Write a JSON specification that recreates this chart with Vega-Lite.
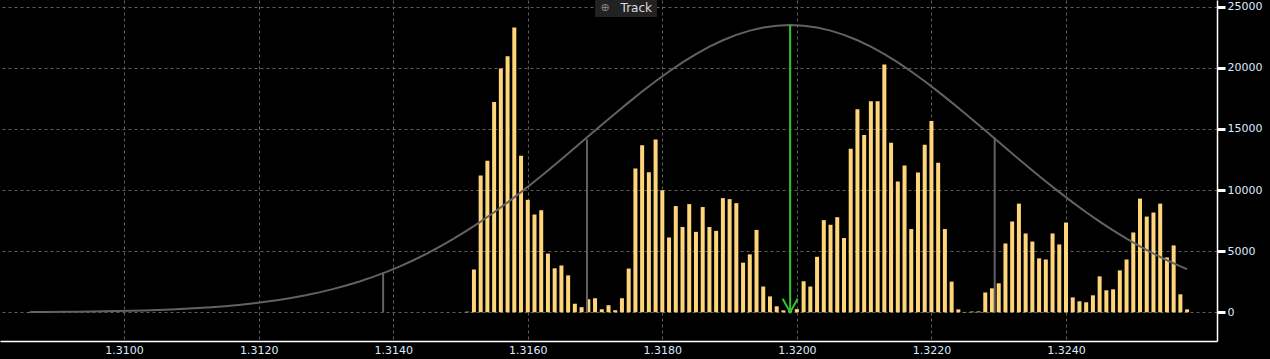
{
  "$schema": "https://vega.github.io/schema/vega-lite/v6.json",
  "width": 1217,
  "height": 341,
  "padding": {"left": 0, "top": 0, "right": 53, "bottom": 18},
  "autosize": {"type": "none"},
  "background": "#000000",
  "config": {
    "view": {"stroke": null},
    "axis": {"labelFont": "DejaVu Sans", "labelFontSize": 11, "labelColor": "#dbeaff", "domainColor": "#ffffff", "domainWidth": 1.5, "gridColor": "#5e5e5e", "gridDash": [3, 3], "gridWidth": 1, "title": null}
  },
  "datasets": {
    "hist": [
      {"price": 1.3086, "count": 30}, {"price": 1.3151, "count": 50}, {"price": 1.3152, "count": 3500}, {"price": 1.3153, "count": 11200},
      {"price": 1.3154, "count": 12400}, {"price": 1.3155, "count": 17200}, {"price": 1.3156, "count": 19950}, {"price": 1.3157, "count": 20950},
      {"price": 1.3158, "count": 23300}, {"price": 1.3159, "count": 12800}, {"price": 1.316, "count": 9200}, {"price": 1.3161, "count": 8000},
      {"price": 1.3162, "count": 8350}, {"price": 1.3163, "count": 4800}, {"price": 1.3164, "count": 3600}, {"price": 1.3165, "count": 3830},
      {"price": 1.3166, "count": 3020}, {"price": 1.3167, "count": 700}, {"price": 1.3168, "count": 420}, {"price": 1.3169, "count": 1070},
      {"price": 1.317, "count": 1150}, {"price": 1.3171, "count": 250}, {"price": 1.3172, "count": 580}, {"price": 1.3173, "count": 170},
      {"price": 1.3174, "count": 1150}, {"price": 1.3175, "count": 3580}, {"price": 1.3176, "count": 11770}, {"price": 1.3177, "count": 13670},
      {"price": 1.3178, "count": 11450}, {"price": 1.3179, "count": 14130}, {"price": 1.318, "count": 9990}, {"price": 1.3181, "count": 6120},
      {"price": 1.3182, "count": 8690}, {"price": 1.3183, "count": 6980}, {"price": 1.3184, "count": 8850}, {"price": 1.3185, "count": 6580},
      {"price": 1.3186, "count": 8610}, {"price": 1.3187, "count": 6980}, {"price": 1.3188, "count": 6660}, {"price": 1.3189, "count": 9340},
      {"price": 1.319, "count": 9260}, {"price": 1.3191, "count": 8930}, {"price": 1.3192, "count": 4060}, {"price": 1.3193, "count": 4740},
      {"price": 1.3194, "count": 6740}, {"price": 1.3195, "count": 2110}, {"price": 1.3196, "count": 1300}, {"price": 1.3197, "count": 490},
      {"price": 1.3198, "count": 160}, {"price": 1.3199, "count": 100}, {"price": 1.32, "count": 260}, {"price": 1.3201, "count": 2540},
      {"price": 1.3202, "count": 2110}, {"price": 1.3203, "count": 4540}, {"price": 1.3204, "count": 7540}, {"price": 1.3205, "count": 7160},
      {"price": 1.3206, "count": 7780}, {"price": 1.3207, "count": 6080}, {"price": 1.3208, "count": 13380}, {"price": 1.3209, "count": 16620},
      {"price": 1.321, "count": 14510}, {"price": 1.3211, "count": 17270}, {"price": 1.3212, "count": 17270}, {"price": 1.3213, "count": 20270},
      {"price": 1.3214, "count": 13870}, {"price": 1.3215, "count": 10700}, {"price": 1.3216, "count": 12000}, {"price": 1.3217, "count": 6810},
      {"price": 1.3218, "count": 11430}, {"price": 1.3219, "count": 13700}, {"price": 1.322, "count": 15650}, {"price": 1.3221, "count": 12240},
      {"price": 1.3222, "count": 6810}, {"price": 1.3223, "count": 2510}, {"price": 1.3224, "count": 240}, {"price": 1.3225, "count": 30},
      {"price": 1.3226, "count": 60}, {"price": 1.3227, "count": 70}, {"price": 1.3228, "count": 1620}, {"price": 1.3229, "count": 1960},
      {"price": 1.323, "count": 2370}, {"price": 1.3231, "count": 5630}, {"price": 1.3232, "count": 7430}, {"price": 1.3233, "count": 8890},
      {"price": 1.3234, "count": 6450}, {"price": 1.3235, "count": 5790}, {"price": 1.3236, "count": 4410}, {"price": 1.3237, "count": 4320},
      {"price": 1.3238, "count": 6450}, {"price": 1.3239, "count": 5550}, {"price": 1.324, "count": 7340}, {"price": 1.3241, "count": 1220},
      {"price": 1.3242, "count": 900}, {"price": 1.3243, "count": 820}, {"price": 1.3244, "count": 1390}, {"price": 1.3245, "count": 2940},
      {"price": 1.3246, "count": 1800}, {"price": 1.3247, "count": 1880}, {"price": 1.3248, "count": 3430}, {"price": 1.3249, "count": 4320},
      {"price": 1.325, "count": 6530}, {"price": 1.3251, "count": 9300}, {"price": 1.3252, "count": 7830}, {"price": 1.3253, "count": 8160},
      {"price": 1.3254, "count": 8890}, {"price": 1.3255, "count": 4490}, {"price": 1.3256, "count": 5470}, {"price": 1.3257, "count": 1470},
      {"price": 1.3258, "count": 240}
    ],
    "curve": [
      {"price": 1.3086, "value": 22}, {"price": 1.3087, "value": 25}, {"price": 1.3089, "value": 32}, {"price": 1.3091, "value": 41},
      {"price": 1.3093, "value": 52}, {"price": 1.3095, "value": 65}, {"price": 1.3097, "value": 81}, {"price": 1.3099, "value": 101},
      {"price": 1.3101, "value": 126}, {"price": 1.3103, "value": 155}, {"price": 1.3105, "value": 191}, {"price": 1.3107, "value": 234},
      {"price": 1.3109, "value": 285}, {"price": 1.3111, "value": 346}, {"price": 1.3113, "value": 419}, {"price": 1.3115, "value": 504},
      {"price": 1.3117, "value": 603}, {"price": 1.3119, "value": 720}, {"price": 1.3121, "value": 855}, {"price": 1.3123, "value": 1011},
      {"price": 1.3125, "value": 1191}, {"price": 1.3127, "value": 1396}, {"price": 1.3129, "value": 1630}, {"price": 1.3131, "value": 1894},
      {"price": 1.3133, "value": 2192}, {"price": 1.3135, "value": 2525}, {"price": 1.3137, "value": 2897}, {"price": 1.3139, "value": 3308},
      {"price": 1.3141, "value": 3762}, {"price": 1.3143, "value": 4259}, {"price": 1.3145, "value": 4801}, {"price": 1.3147, "value": 5389},
      {"price": 1.3149, "value": 6023}, {"price": 1.3151, "value": 6701}, {"price": 1.3153, "value": 7423}, {"price": 1.3155, "value": 8187},
      {"price": 1.3157, "value": 8991}, {"price": 1.3159, "value": 9833}, {"price": 1.3161, "value": 10705}, {"price": 1.3163, "value": 11601},
      {"price": 1.3165, "value": 12521}, {"price": 1.3167, "value": 13454}, {"price": 1.3169, "value": 14396}, {"price": 1.3171, "value": 15334},
      {"price": 1.3173, "value": 16262}, {"price": 1.3175, "value": 17174}, {"price": 1.3177, "value": 18055}, {"price": 1.3179, "value": 18901},
      {"price": 1.3181, "value": 19698}, {"price": 1.3183, "value": 20443}, {"price": 1.3185, "value": 21122}, {"price": 1.3187, "value": 21728},
      {"price": 1.3189, "value": 22254}, {"price": 1.3191, "value": 22694}, {"price": 1.3193, "value": 23044}, {"price": 1.3195, "value": 23296},
      {"price": 1.3197, "value": 23449}, {"price": 1.3199, "value": 23500}, {"price": 1.3201, "value": 23449}, {"price": 1.3203, "value": 23296},
      {"price": 1.3205, "value": 23044}, {"price": 1.3207, "value": 22694}, {"price": 1.3209, "value": 22254}, {"price": 1.3211, "value": 21728},
      {"price": 1.3213, "value": 21122}, {"price": 1.3215, "value": 20443}, {"price": 1.3217, "value": 19698}, {"price": 1.3219, "value": 18901},
      {"price": 1.3221, "value": 18055}, {"price": 1.3223, "value": 17174}, {"price": 1.3225, "value": 16262}, {"price": 1.3227, "value": 15334},
      {"price": 1.3229, "value": 14396}, {"price": 1.3231, "value": 13454}, {"price": 1.3233, "value": 12521}, {"price": 1.3235, "value": 11601},
      {"price": 1.3237, "value": 10705}, {"price": 1.3239, "value": 9833}, {"price": 1.3241, "value": 8991}, {"price": 1.3243, "value": 8187},
      {"price": 1.3245, "value": 7423}, {"price": 1.3247, "value": 6701}, {"price": 1.3249, "value": 6023}, {"price": 1.3251, "value": 5389},
      {"price": 1.3253, "value": 4801}, {"price": 1.3255, "value": 4259}, {"price": 1.3257, "value": 3762}, {"price": 1.3258, "value": 3530}
    ],
    "sigma": [
      {"price": 1.31385, "base": 0, "top": 3250},
      {"price": 1.31688, "base": 0, "top": 14150},
      {"price": 1.32294, "base": 0, "top": 14300}
    ],
    "mean": [{"price": 1.3199, "base": 0, "top": 23500}],
    "track": [{"x1": 1.317, "x2": 1.31792, "y1": 24150, "y2": 25548, "icon": 1.31715, "textx": 1.31738, "ty": 24900, "label": "Track"}]
  },
  "encoding": {
    "x": {"type": "quantitative"},
    "y": {"type": "quantitative"}
  },
  "layer": [
    {
      "data": {"name": "hist"},
      "mark": {"type": "bar", "color": "#ffd57a", "size": 4, "orient": "vertical"},
      "encoding": {
        "x": {
          "field": "price", "type": "quantitative",
          "scale": {"domain": [1.30823, 1.32617], "nice": false, "zero": false},
          "axis": {"orient": "bottom", "values": [1.31, 1.312, 1.314, 1.316, 1.318, 1.32, 1.322, 1.324], "format": ".4f", "ticks": false, "labelPadding": 3, "grid": true, "labelFlush": false}
        },
        "y": {
          "field": "count", "type": "quantitative",
          "scale": {"domain": [-2348, 25548], "nice": false, "zero": false},
          "axis": {
            "orient": "right",
            "values": [0, 2500, 5000, 7500, 10000, 12500, 15000, 17500, 20000, 22500, 25000],
            "format": "d",
            "labelExpr": "datum.value % 5000 === 0 ? datum.label : ''",
            "tickColor": "#ffffff",
            "tickSize": {"condition": {"test": "datum.value % 5000 === 0", "value": 8}, "value": 4},
            "tickWidth": {"condition": {"test": "datum.value % 5000 === 0", "value": 3}, "value": 1},
            "gridOpacity": {"condition": {"test": "datum.value % 5000 === 0", "value": 1}, "value": 0},
            "labelPadding": 2,
            "labelBaseline": "middle",
            "labelFlush": false,
            "grid": true
          }
        }
      }
    },
    {
      "data": {"name": "curve"},
      "mark": {"type": "line", "color": "#626262", "strokeWidth": 2},
      "encoding": {
        "x": {"field": "price", "type": "quantitative"},
        "y": {"field": "value", "type": "quantitative"}
      }
    },
    {
      "data": {"name": "sigma"},
      "mark": {"type": "rule", "color": "#626262", "strokeWidth": 2},
      "encoding": {
        "x": {"field": "price", "type": "quantitative"},
        "y": {"field": "base", "type": "quantitative"},
        "y2": {"field": "top"}
      }
    },
    {
      "data": {"name": "mean"},
      "mark": {"type": "rule", "color": "#33c433", "strokeWidth": 2},
      "encoding": {
        "x": {"field": "price", "type": "quantitative"},
        "y": {"field": "base", "type": "quantitative"},
        "y2": {"field": "top"}
      }
    },
    {
      "data": {"name": "mean"},
      "mark": {"type": "point", "shape": "M-0.5,-0.9L0,0L0.5,-0.9", "filled": false, "stroke": "#33c433", "strokeWidth": 2, "size": 900, "opacity": 1},
      "encoding": {
        "x": {"field": "price", "type": "quantitative"},
        "y": {"field": "base", "type": "quantitative"}
      }
    },
    {
      "data": {"name": "track"},
      "mark": {"type": "rect", "color": "#222222"},
      "encoding": {
        "x": {"field": "x1", "type": "quantitative"},
        "x2": {"field": "x2"},
        "y": {"field": "y1", "type": "quantitative"},
        "y2": {"field": "y2"}
      }
    },
    {
      "data": {"name": "track"},
      "mark": {"type": "text", "text": "⊕", "color": "#8a8a8a", "font": "DejaVu Sans", "fontSize": 11, "align": "center", "baseline": "middle"},
      "encoding": {
        "x": {"field": "icon", "type": "quantitative"},
        "y": {"field": "ty", "type": "quantitative"}
      }
    },
    {
      "data": {"name": "track"},
      "mark": {"type": "text", "color": "#dddddd", "font": "DejaVu Sans", "fontSize": 12, "align": "left", "baseline": "middle"},
      "encoding": {
        "x": {"field": "textx", "type": "quantitative"},
        "y": {"field": "ty", "type": "quantitative"},
        "text": {"field": "label"}
      }
    }
  ]
}
